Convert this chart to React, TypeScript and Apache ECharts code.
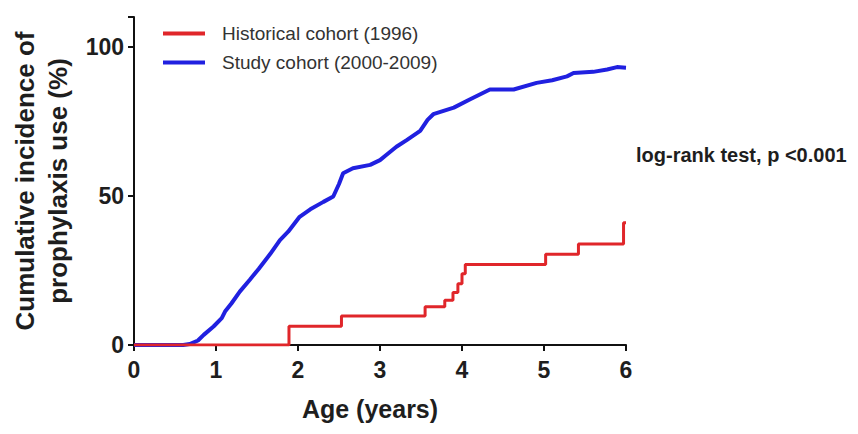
import React, { useEffect, useRef } from "react";
import * as echarts from "echarts";

const historicalName = "Historical cohort (1996)";
const studyName = "Study cohort (2000-2009)";

// Historical cohort: Kaplan-Meier style steps [age (years), cumulative incidence %]
const historicalX = [0, 1.89, 2.53, 3.55, 3.79, 3.89, 3.95, 4.0, 4.04, 5.02, 5.42, 5.97, 6.0];
const historicalY = [0, 6.3, 9.7, 12.8, 15.0, 17.6, 20.5, 23.9, 27.0, 30.4, 33.9, 41.0, 41.0];

// Study cohort curve [age (years), cumulative incidence %]
const studyX = [0, 0.6, 0.68, 0.78, 0.85, 0.97, 1.07, 1.11, 1.19, 1.29, 1.41, 1.52, 1.66, 1.78, 1.88, 2.02, 2.15, 2.31, 2.43, 2.5, 2.55, 2.67, 2.88, 3.0, 3.08, 3.2, 3.33, 3.49, 3.58, 3.65, 3.9, 4.1, 4.34, 4.63, 4.91, 5.1, 5.28, 5.36, 5.6, 5.77, 5.89, 6.0];
const studyY = [0, 0, 0.3, 1.5, 3.4, 6.2, 9.0, 11.2, 14.0, 17.9, 21.8, 25.5, 30.5, 35.2, 38.0, 43.0, 45.5, 48.0, 49.8, 54.0, 57.6, 59.3, 60.4, 62.0, 63.8, 66.5, 68.8, 71.8, 75.5, 77.4, 79.6, 82.4, 85.7, 85.7, 87.9, 88.8, 90.1, 91.2, 91.6, 92.4, 93.2, 93.0];

const xTicks = [0, 1, 2, 3, 4, 5, 6];
const yTicks = [0, 50, 100];

const annotation = "log-rank test, p <0.001";
const xTitle = "Age (years)";
const yTitle = "Cumulative incidence of\nprophylaxis use (%)";

const FONT = "'Liberation Sans', Arial, Helvetica, sans-serif";
const TEXT = "#1e1e1e";

export default function App() {
  const ref = useRef<HTMLDivElement>(null);
  useEffect(() => {
    if (!ref.current) return;
    const chart = echarts.init(ref.current, undefined, { renderer: "svg" });
    const pair = (xs: number[], ys: number[]) => xs.map((x, i) => [x, ys[i]]);
    chart.setOption({
      animation: false,
      backgroundColor: "#ffffff",
      textStyle: { fontFamily: FONT },
      grid: { left: 134, right: 232, top: 17, bottom: 89, containLabel: false },
      legend: {
        orient: "vertical",
        left: 158,
        top: 19,
        itemWidth: 42,
        itemHeight: 4,
        itemGap: 10,
        icon: "rect",
        data: [historicalName, studyName],
        textStyle: { fontFamily: FONT, fontSize: 19, color: "#333", padding: [0, 0, 0, 12] },
      },
      xAxis: {
        type: "value",
        min: 0,
        max: 6,
        interval: 1,
        name: xTitle,
        nameLocation: "middle",
        nameGap: 51,
        nameTextStyle: { fontFamily: FONT, fontSize: 25, fontWeight: "bold", color: TEXT, padding: [0, 20, 0, 0] },
        axisLine: { show: true, onZero: false, lineStyle: { color: "#111", width: 2 } },
        axisTick: { show: true, length: 6, lineStyle: { color: "#111", width: 2 } },
        axisLabel: { fontFamily: FONT, fontSize: 23, fontWeight: "bold", color: TEXT, margin: 13, formatter: (v: number) => (xTicks.includes(v) ? String(v) : "") },
        splitLine: { show: false },
      },
      yAxis: {
        type: "value",
        min: 0,
        max: 110,
        interval: 50,
        name: yTitle,
        nameLocation: "middle",
        nameGap: 56,
        nameRotate: 90,
        nameTextStyle: { fontFamily: FONT, fontSize: 26, fontWeight: "bold", color: TEXT, lineHeight: 33, align: "center" },
        axisLine: { show: true, lineStyle: { color: "#111", width: 2 } },
        axisTick: { show: true, length: 6, lineStyle: { color: "#111", width: 2 } },
        axisLabel: { fontFamily: FONT, fontSize: 23, fontWeight: "bold", color: TEXT, margin: 10, formatter: (v: number) => (yTicks.includes(v) ? String(v) : "") },
        splitLine: { show: false },
      },
      series: [
        {
          name: studyName,
          type: "line",
          data: pair(studyX, studyY),
          showSymbol: false,
          symbol: "none",
          lineStyle: { color: "#2020e0", width: 4 },
          itemStyle: { color: "#2020e0" },
          z: 2,
        },
        {
          name: historicalName,
          type: "line",
          step: "end",
          data: pair(historicalX, historicalY),
          showSymbol: false,
          symbol: "none",
          lineStyle: { color: "#e0262a", width: 3 },
          itemStyle: { color: "#e0262a" },
          z: 3,
        },
      ],
      graphic: [
        {
          type: "text",
          left: 636,
          top: 145,
          style: { text: annotation, fontFamily: FONT, fontSize: 20, fontWeight: "bold", fill: TEXT },
        },
      ],
    });
    return () => chart.dispose();
  }, []);
  return <div ref={ref} style={{ width: 858, height: 434, position: "fixed", left: 0, top: 0 }} />;
}
